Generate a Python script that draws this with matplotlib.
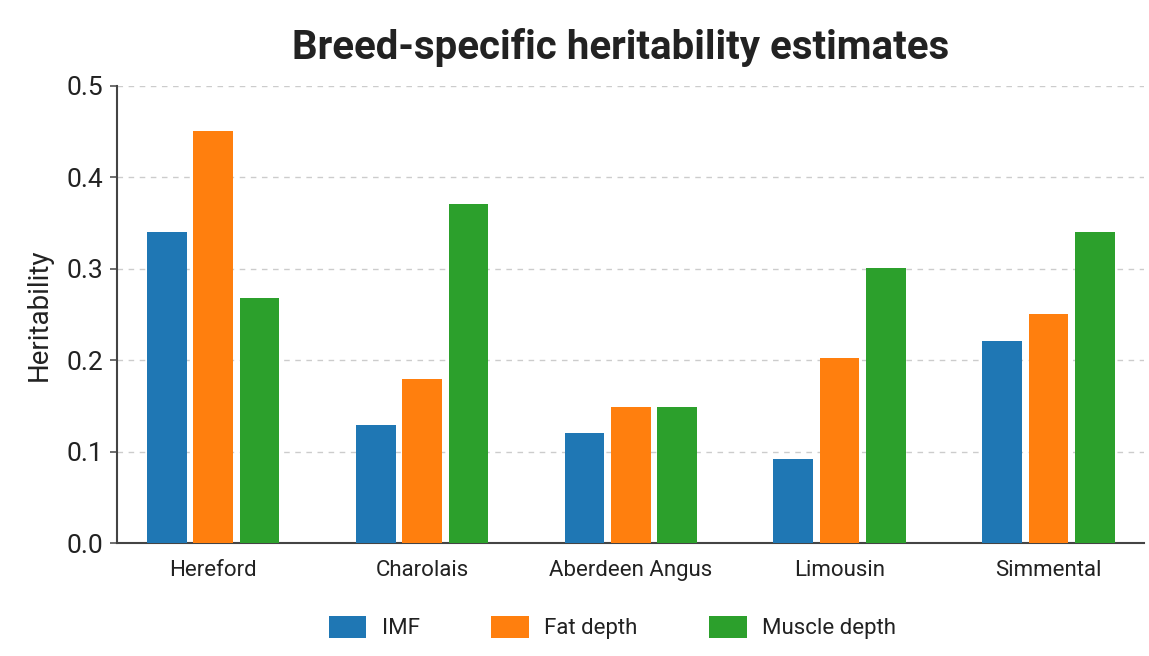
import matplotlib
matplotlib.use('Agg')
import matplotlib.pyplot as plt
import numpy as np

breeds = ['Hereford', 'Charolais', 'Aberdeen Angus', 'Limousin', 'Simmental']
imf = [0.34, 0.129, 0.12, 0.092, 0.221]
fat_depth = [0.451, 0.179, 0.149, 0.202, 0.251]
muscle_depth = [0.268, 0.371, 0.149, 0.301, 0.34]
series_names = ['IMF', 'Fat depth', 'Muscle depth']
colors = ['#1f77b4', '#ff7f0e', '#2ca02c']

plt.rcParams['font.family'] = ['Roboto', 'DejaVu Sans']

fig = plt.figure(figsize=(11.49, 6.56), dpi=100)
ax = fig.add_axes([0.102, 0.172, 0.894, 0.697])

x = np.arange(len(breeds))
width = 0.19
offset = 0.222
for i, (vals, name) in enumerate(zip([imf, fat_depth, muscle_depth], series_names)):
    ax.bar(x + (i - 1) * offset, vals, width, color=colors[i], label=name, zorder=3)

ax.set_xlim(-0.46, 4.46)
ax.set_ylim(0, 0.5)
ax.set_yticks(np.arange(0, 0.51, 0.1))
ax.set_yticklabels(['%.1f' % v for v in np.arange(0, 0.51, 0.1)], fontsize=19, color='#222222')
ax.set_xticks(x)
ax.set_xticklabels(breeds, fontsize=16, color='#222222')
ax.tick_params(axis='x', length=0, pad=12)
ax.tick_params(axis='y', length=5, width=1.2, color='#555555', pad=5)
ax.set_ylabel('Heritability', fontsize=20, labelpad=10, color='#222222')

ax.grid(axis='y', linestyle=(0, (4, 4)), color='#cccccc', linewidth=1, zorder=0)
for s in ['top', 'right']:
    ax.spines[s].set_visible(False)
for s in ['left', 'bottom']:
    ax.spines[s].set_color('#444444')
    ax.spines[s].set_linewidth(1.5)

fig.suptitle('Breed-specific heritability estimates', fontsize=29, fontweight='bold',
             x=0.54, y=0.958, color='#222222')

fig.legend(loc='lower center', bbox_to_anchor=(0.533, -0.005), ncol=3, frameon=False,
           fontsize=16, handlelength=1.7, handleheight=1.15, columnspacing=3.2,
           handletextpad=0.7, labelcolor='#222222')

fig.savefig('out.png', dpi=100)
